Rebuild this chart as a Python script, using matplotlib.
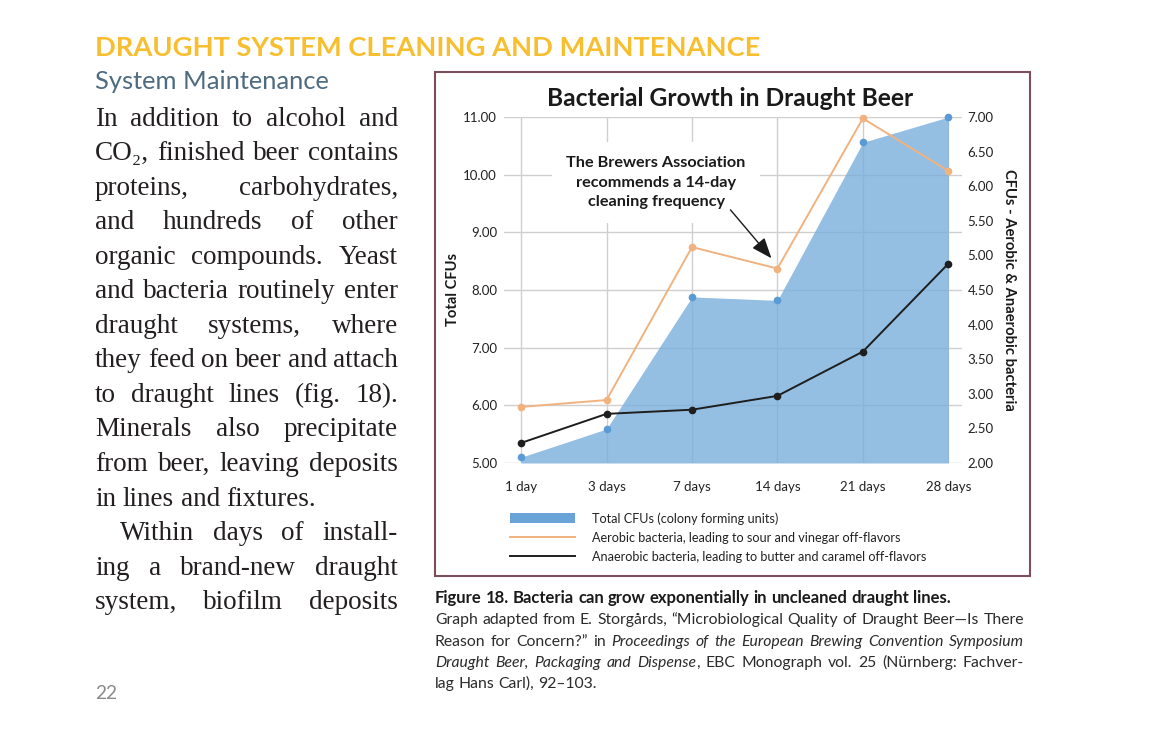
import numpy as np
import matplotlib
matplotlib.use('Agg')
import matplotlib.pyplot as plt
from matplotlib.patches import Rectangle, Patch
from matplotlib.lines import Line2D

# data
days = ['1 day', '3 days', '7 days', '14 days', '21 days', '28 days']
total_cfu = [5.10, 5.59, 7.88, 7.82, 10.56, 11.00]      # left axis
aerobic = [2.81, 2.91, 5.12, 4.81, 6.98, 6.22]          # right axis
anaerobic = [2.29, 2.71, 2.77, 2.97, 3.61, 4.88]        # right axis
left_ticks = [5, 6, 7, 8, 9, 10, 11]
right_ticks = [2.0, 2.5, 3.0, 3.5, 4.0, 4.5, 5.0, 5.5, 6.0, 6.5, 7.0]
legend_labels = ['Total CFUs (colony forming units)',
                 'Aerobic bacteria, leading to sour and vinegar off-flavors',
                 'Anaerobic bacteria, leading to butter and caramel off-flavors']

body_lines = [
    "In addition to alcohol and",
    "CO\u2082, finished beer contains",
    "proteins, carbohydrates,",
    "and hundreds of other",
    "organic compounds. Yeast",
    "and bacteria routinely enter",
    "draught systems, where",
    "they feed on beer and attach",
    "to draught lines (fig. 18).",
    "Minerals also precipitate",
    "from beer, leaving deposits",
    "in lines and fixtures.",
    "Within days of install-",
    "ing a brand-new draught",
    "system, biofilm deposits",
]

W, H = 1152, 752
SANS = ['Lato', 'DejaVu Sans']
SERIF = ['Liberation Serif', 'DejaVu Serif']
plt.rcParams['font.family'] = SANS

fig = plt.figure(figsize=(W / 100, H / 100), dpi=100)
fig.patch.set_facecolor('white')
renderer = fig.canvas.get_renderer()


def fx(x):
    return x / W


def fy(y):
    return 1 - y / H


def width_of(t):
    return t.get_window_extent(renderer).width


def fit(t, target):
    t.set_fontsize(t.get_fontsize() * target / width_of(t))
    return t.get_fontsize()


def fit_size(text, target, size, **kw):
    p = fig.text(0, 0, text, fontsize=size, **kw)
    s = fit(p, target)
    p.remove()
    return s


def space_w(**kw):
    a = fig.text(0, 0, 'x x', **kw)
    b = fig.text(0, 0, 'xx', **kw)
    s = width_of(a) - width_of(b)
    a.remove()
    b.remove()
    return s


def words(text, **props):
    return [[(w, props)] for w in text.split()]


def place_line(wlist, x0, y, width, just, **base):
    items = []
    for w in wlist:
        segs = []
        for txt, pr in w:
            kw = dict(base)
            kw.update(pr)
            t = fig.text(0, 0, txt, va='baseline', ha='left', **kw)
            segs.append((t, width_of(t)))
        items.append(segs)
    wsum = [sum(s[1] for s in segs) for segs in items]
    if just and len(items) > 1:
        gap = (width - sum(wsum)) / (len(items) - 1)
    else:
        gap = space_w(**base)
    x = x0
    for segs, ww in zip(items, wsum):
        xx = x
        for t, w in segs:
            t.set_position((fx(xx), fy(y)))
            xx += w
        x += ww + gap


# ---- page headings ----
t = fig.text(fx(95), fy(56), 'DRAUGHT SYSTEM CLEANING AND MAINTENANCE',
             fontsize=18, fontweight='bold', color='#f7bf2f', va='baseline')
fit(t, 663)
t = fig.text(fx(95), fy(89), 'System Maintenance', fontsize=16,
             color='#4f6b80', va='baseline')
fit(t, 235)

# ---- body text (justified) ----
body_size = fit_size('in lines and fixtures.', 222, 20, family=SERIF)
body_kw = dict(fontsize=body_size, family=SERIF, color='#231f20')
for i, line in enumerate(body_lines):
    y = 125.5 + 34.55 * i
    x0 = 120 if i == 12 else 95
    place_line(words(line), x0, y, 398 - x0, i != 11, **body_kw)

t = fig.text(fx(95), fy(699), '22', fontsize=13, color='#8a8a8a', va='baseline')
fit(t, 22)

# ---- chart frame ----
fig.patches.append(Rectangle((fx(435), fy(576)), (1030 - 435) / W, (576 - 72) / H,
                             transform=fig.transFigure, fill=False,
                             ec='#7a4f5a', lw=1.5))

t = fig.text(fx(730), fy(106), 'Bacterial Growth in Draught Beer', fontsize=15,
             fontweight='bold', color='#1a1a1a', ha='center', va='baseline')
fit(t, 368)

# ---- chart axes ----
ax = fig.add_axes([fx(504), fy(463), (962 - 504) / W, (463 - 117) / H])
x = np.arange(len(days))
ax.fill_between(x, total_cfu, 5, color='#79afdc', alpha=0.8, lw=0, zorder=2)
ax.plot(x, total_cfu, 'o', color='#5b9bd5', ms=4.5, zorder=3, clip_on=False)
ax.set_xlim(-0.2, 5.16)
ax.set_ylim(5, 11)
ax.set_yticks(left_ticks)
ax.set_yticklabels(['%.2f' % v for v in left_ticks])
ax.set_xticks(x)
ax.set_xticklabels(days)
ax.grid(True, color='#cfcfcf', lw=1.0, zorder=0)
ax.set_axisbelow(True)
for s in ax.spines.values():
    s.set_visible(False)
ax.tick_params(length=0, labelsize=9.5, colors='#222222')
ax.tick_params(axis='x', pad=13)
ax.tick_params(axis='y', pad=5)
ax.set_ylabel('Total CFUs', fontsize=10.6, fontweight='bold', labelpad=2, color='#1a1a1a')

ax2 = ax.twinx()
ax2.plot(x, aerobic, '-o', color='#f0b27f', lw=1.4, ms=4.5, zorder=4, clip_on=False)
ax2.plot(x, anaerobic, '-o', color='#1e1e1e', lw=1.4, ms=4.5, zorder=5, clip_on=False)
ax2.set_ylim(2, 7)
ax2.set_yticks(right_ticks)
ax2.set_yticklabels(['%.2f' % v for v in right_ticks])
for s in ax2.spines.values():
    s.set_visible(False)
ax2.tick_params(length=0, labelsize=9.5, colors='#222222', pad=4)
ax2.set_ylabel('CFUs - Aerobic & Anaerobic bacteria', fontsize=10.6, fontweight='bold',
               rotation=270, va='bottom', labelpad=6, color='#1a1a1a')

note_size = fit_size('The Brewers Association', 179, 11, fontweight='bold')
ax.text(1.58, 9.86, 'The Brewers Association\nrecommends a 14-day\ncleaning frequency',
        ha='center', va='center', fontsize=note_size, fontweight='bold', color='#1a1a1a',
        linespacing=1.5, zorder=6,
        bbox=dict(fc='white', ec='none', pad=10))
ax.annotate('', xy=(2.93, 8.55), xytext=(2.45, 9.39), zorder=7,
            arrowprops=dict(arrowstyle='-|>,head_length=0.9,head_width=0.35',
                            mutation_scale=14, color='#1a1a1a', lw=1.0,
                            shrinkA=0, shrinkB=0))

# ---- legend ----
leg_size = fit_size(legend_labels[0], 186, 9)
handles = [Patch(fc='#6aa3d8', ec='none'),
           Line2D([], [], color='#f0b27f', lw=1.4),
           Line2D([], [], color='#1e1e1e', lw=1.4)]
fs_px = leg_size * 100 / 72
ax.legend(handles, legend_labels, loc='upper left', bbox_to_anchor=(fx(510), fy(512)),
          bbox_transform=fig.transFigure, frameon=False, fontsize=leg_size,
          borderpad=0, borderaxespad=0, handlelength=65 / fs_px,
          handleheight=0.8, handletextpad=17 / fs_px, labelspacing=(19.8 - fs_px) / fs_px,
          labelcolor='#222222')

# ---- caption ----
B = {'fontweight': 'bold', 'color': '#1a1a1a'}
I = {'fontstyle': 'italic'}
first_line = "Figure 18. Bacteria can grow exponentially in uncleaned draught lines."
head_size = fit_size(first_line, 515, 11, fontweight='bold')
B['fontsize'] = head_size
cap_lines = [
    (words(first_line, **B), False),
    (words("Graph adapted from E. Storg\u00e5rds, \u201cMicrobiological Quality of "
           "Draught Beer\u2014Is There"), True),
    (words("Reason for Concern?\u201d in") +
     words("Proceedings of the European Brewing Convention Symposium", **I), True),
    (words("Draught Beer, Packaging and", **I) + [[("Dispense", I), (",", {})]] +
     words("EBC Monograph vol. 25 (N\u00fcrnberg: Fachver-"), True),
    (words("lag Hans Carl), 92\u2013103."), False),
]
# regular caption size: last line width, shrunk a little if a justified line is too long
cap_size = fit_size('lag Hans Carl), 92\u2013103.', 170, 11)
for wl, just in cap_lines[1:4]:
    plain = ' '.join(''.join(s[0] for s in w) for w in wl)
    cap_size = min(cap_size, fit_size(plain, 600, 11))
cap_kw = dict(fontsize=cap_size, color='#2b2b2b')
for i, (wl, just) in enumerate(cap_lines):
    place_line(wl, 435, 603 + 21.3 * i, 1024 - 435, just, **cap_kw)

fig.savefig('out.png', dpi=100)
